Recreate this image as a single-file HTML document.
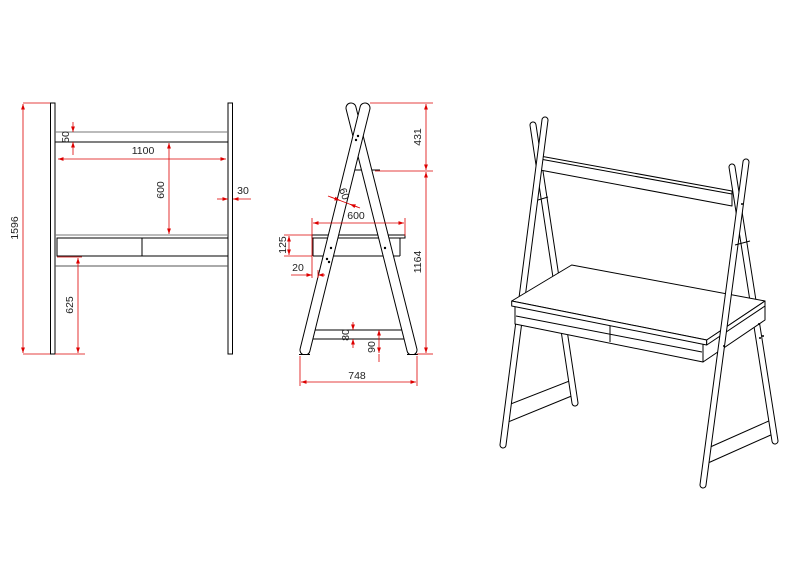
<!DOCTYPE html>
<html><head><meta charset="utf-8"><style>
html,body{margin:0;padding:0;background:#fff}
svg{display:block}
text{font-family:"Liberation Sans",sans-serif;font-size:10.5px;fill:#222}
</style></head><body>
<svg width="792" height="576" viewBox="0 0 792 576" xmlns="http://www.w3.org/2000/svg">
<defs>
<marker id="a" viewBox="0 0 10 10" refX="10" refY="5" markerWidth="7" markerHeight="7" orient="auto-start-reverse"><path d="M0,1.5 L10,5 L0,8.5z" fill="#d00"/></marker>
</defs>
<!-- FRONT VIEW -->
<g stroke="#000" fill="#fff" stroke-width="1">
<rect x="50.5" y="103" width="4.5" height="251"/>
<rect x="228" y="103" width="4.5" height="251"/>
<line x1="55" y1="132" x2="228" y2="132" stroke="#777"/>
<line x1="55" y1="142" x2="228" y2="142"/>
<line x1="55" y1="235" x2="228" y2="235" stroke="#777"/>
<rect x="57" y="238" width="171" height="18"/>
<line x1="142" y1="238" x2="142" y2="256"/>
<line x1="55" y1="266" x2="228" y2="266" stroke="#555"/>
</g>
<g stroke="#d00" stroke-width="0.8" fill="none">
<line x1="23" y1="103" x2="50" y2="103"/><line x1="23" y1="354" x2="50" y2="354"/>
<line x1="23" y1="104" x2="23" y2="353" marker-start="url(#a)" marker-end="url(#a)"/>
<line x1="73" y1="122" x2="73" y2="132" marker-end="url(#a)"/>
<line x1="73" y1="155" x2="73" y2="142" marker-end="url(#a)"/>
<line x1="58" y1="159" x2="226" y2="159" marker-start="url(#a)" marker-end="url(#a)"/>
<line x1="169" y1="143" x2="169" y2="234" marker-start="url(#a)" marker-end="url(#a)"/>
<line x1="217" y1="199" x2="228" y2="199" marker-end="url(#a)"/>
<line x1="251" y1="199" x2="233" y2="199" marker-end="url(#a)"/>
<line x1="57" y1="257" x2="82" y2="257"/><line x1="55" y1="354" x2="85" y2="354"/>
<line x1="78" y1="258" x2="78" y2="353" marker-start="url(#a)" marker-end="url(#a)"/>
</g>
<text transform="translate(18,228) rotate(-90)" text-anchor="middle">1596</text>
<text transform="translate(69,137) rotate(-90)" text-anchor="middle">50</text>
<text x="143" y="154" text-anchor="middle">1100</text>
<text transform="translate(164,190) rotate(-90)" text-anchor="middle">600</text>
<text x="243" y="194" text-anchor="middle">30</text>
<text transform="translate(73,305) rotate(-90)" text-anchor="middle">625</text>
<!-- SIDE VIEW -->
<g stroke="#000" stroke-width="1" fill="#fff">
<line x1="312" y1="330" x2="410" y2="330"/><line x1="310" y1="339" x2="412" y2="339"/>
<rect x="312" y="235" width="93" height="3"/>
<line x1="313" y1="238" x2="313" y2="256"/><line x1="313" y1="256" x2="400" y2="256"/>
<line x1="400" y1="238" x2="400" y2="256"/>
<line x1="344" y1="170" x2="380" y2="170"/>
</g>
<g stroke-linecap="round">
<line x1="351" y1="108" x2="412" y2="350" stroke="#000" stroke-width="11"/>
<line x1="351" y1="108" x2="412" y2="350" stroke="#fff" stroke-width="9"/>
<line x1="365" y1="108" x2="305" y2="350" stroke="#000" stroke-width="11"/>
<line x1="365" y1="108" x2="305" y2="350" stroke="#fff" stroke-width="9"/>
</g>
<rect x="299" y="355" width="120" height="10" fill="#fff"/>
<line x1="299" y1="354.5" x2="310" y2="354.5" stroke="#000"/><line x1="407" y1="354.5" x2="418" y2="354.5" stroke="#000"/>
<g fill="#000"><circle cx="358" cy="136" r="1.2"/><circle cx="356" cy="140" r="1.2"/><circle cx="331" cy="248" r="1.2"/><circle cx="327" cy="259" r="1.2"/><circle cx="329" cy="262" r="1.2"/><circle cx="385" cy="248" r="1.2"/></g>
<g stroke="#d00" stroke-width="0.8" fill="none">
<line x1="370" y1="103" x2="433" y2="103"/><line x1="375" y1="171" x2="433" y2="171"/>
<line x1="426" y1="104" x2="426" y2="170" marker-start="url(#a)" marker-end="url(#a)"/>
<line x1="426" y1="172" x2="426" y2="353" marker-start="url(#a)" marker-end="url(#a)"/>
<line x1="417" y1="354" x2="433" y2="354"/>
<line x1="300" y1="356" x2="300" y2="386"/><line x1="417" y1="356" x2="417" y2="386"/>
<line x1="301" y1="382" x2="416" y2="382" marker-start="url(#a)" marker-end="url(#a)"/>
<line x1="312" y1="218" x2="312" y2="278"/><line x1="405" y1="218" x2="405" y2="236"/>
<line x1="313" y1="223" x2="404" y2="223" marker-start="url(#a)" marker-end="url(#a)"/>
<line x1="284" y1="235" x2="312" y2="235"/><line x1="284" y1="256" x2="312" y2="256"/>
<line x1="289" y1="236" x2="289" y2="255" marker-start="url(#a)" marker-end="url(#a)"/>
<line x1="291" y1="275" x2="312" y2="275" marker-end="url(#a)"/>
<line x1="325" y1="275" x2="318" y2="275" marker-end="url(#a)"/>
<line x1="318" y1="270" x2="318" y2="278"/>
<line x1="328" y1="196" x2="360" y2="208"/>
<line x1="330" y1="196.7" x2="340" y2="200.5" marker-end="url(#a)"/>
<line x1="358" y1="207.3" x2="350" y2="204.3" marker-end="url(#a)"/>
<line x1="353" y1="322" x2="353" y2="330" marker-end="url(#a)"/>
<line x1="353" y1="348" x2="353" y2="339" marker-end="url(#a)"/>
<line x1="379" y1="330" x2="379" y2="353" marker-start="url(#a)" marker-end="url(#a)"/>
<line x1="379" y1="354" x2="379" y2="362"/>
</g>
<text transform="translate(421,137) rotate(-90)" text-anchor="middle">431</text>
<text transform="translate(421,262) rotate(-90)" text-anchor="middle">1164</text>
<text x="357" y="379" text-anchor="middle">748</text>
<text x="356" y="219" text-anchor="middle">600</text>
<text transform="translate(286,245) rotate(-90)" text-anchor="middle">125</text>
<text x="298" y="271" text-anchor="middle">20</text>
<text transform="translate(341,195) rotate(70)" text-anchor="middle">60</text>
<text transform="translate(349,335) rotate(-90)" text-anchor="middle">80</text>
<text transform="translate(375,347) rotate(-90)" text-anchor="middle">90</text>
<!-- ISOMETRIC -->
<g stroke="#000" stroke-width="1" fill="#fff" stroke-linejoin="round">
<polygon points="508,405 572,380 574,395 508,422"/>
<polygon points="708,448 771,420 773,434 708,463"/>
<g stroke-linecap="round">
<line x1="533" y1="125" x2="575" y2="403" stroke="#000" stroke-width="7"/>
<line x1="533" y1="125" x2="575" y2="403" stroke="#fff" stroke-width="5"/>
<line x1="732" y1="167" x2="775" y2="441" stroke="#000" stroke-width="7"/>
<line x1="732" y1="167" x2="775" y2="441" stroke="#fff" stroke-width="5"/>
</g>
<!-- top bar -->
<polygon points="540,156 732,191 732,206 540,170"/>
<line x1="540" y1="159" x2="732" y2="194"/>
<g stroke-linecap="round">
<line x1="545" y1="120" x2="503" y2="445" stroke="#000" stroke-width="7"/>
<line x1="545" y1="120" x2="503" y2="445" stroke="#fff" stroke-width="5"/>
</g>
<line x1="538" y1="200" x2="548" y2="197"/>
<!-- desk -->
<polygon points="515,306 703,344 703,362 515,324"/>
<polygon points="703,344 765,304 765,320 703,362"/>
<line x1="516" y1="316" x2="702" y2="352"/>
<line x1="610" y1="326" x2="610" y2="342"/>
<polygon points="511.7,301 571.7,265 765,301 706.7,340"/>
<polygon points="511.7,301 706.7,340 706.7,345 511.7,306"/>
<polygon points="706.7,340 765,301 765,306 706.7,345"/>
<g stroke-linecap="round">
<line x1="746" y1="162" x2="703" y2="485" stroke="#000" stroke-width="7"/>
<line x1="746" y1="162" x2="703" y2="485" stroke="#fff" stroke-width="5"/>
</g>
<line x1="735" y1="245" x2="750" y2="241"/>
</g>
<g fill="#000"><circle cx="742" cy="204" r="1"/><circle cx="759" cy="324" r="1"/><circle cx="760" cy="338" r="1"/><circle cx="763" cy="336" r="1"/><circle cx="724" cy="346" r="1"/></g>
</svg>
</body></html>
